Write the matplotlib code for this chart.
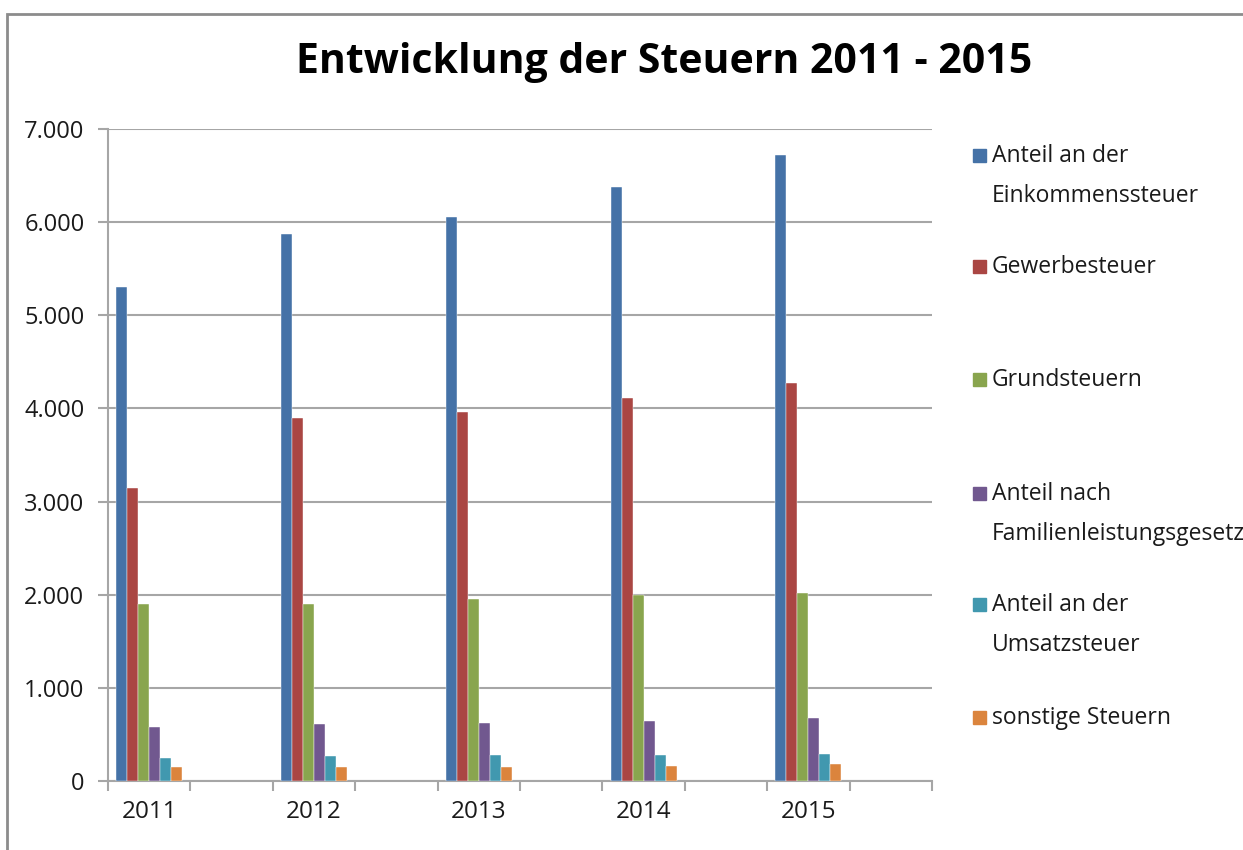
import numpy as np
import matplotlib.pyplot as plt
from matplotlib.patches import Rectangle
from matplotlib.ticker import FuncFormatter

''' Data '''
# Excel-Tabelle mit Leerzeilen zwischen den Jahren
categories = ['2011', '', '2012', '', '2013', '', '2014', '', '2015', '']
nan = np.nan

einkommensteuer = [5300, nan, 5870, nan, 6060, nan, 6380, nan, 6715, nan]
gewerbesteuer = [3140, nan, 3900, nan, 3960, nan, 4115, nan, 4270, nan]
grundsteuern = [1900, nan, 1900, nan, 1950, nan, 1995, nan, 2015, nan]
familienleistung = [575, nan, 610, nan, 625, nan, 640, nan, 675, nan]
umsatzsteuer = [250, nan, 265, nan, 280, nan, 280, nan, 295, nan]
sonstige = [145, nan, 145, nan, 155, nan, 158, nan, 180, nan]

series = [einkommensteuer, gewerbesteuer, grundsteuern,
          familienleistung, umsatzsteuer, sonstige]
legend_labels = ['Anteil an der\nEinkommenssteuer', 'Gewerbesteuer',
                 'Grundsteuern', 'Anteil nach\nFamilienleistungsgesetz',
                 'Anteil an der\nUmsatzsteuer', 'sonstige Steuern']
colors = ['#4572A7', '#AA4643', '#89A54E', '#71588F', '#4198AF', '#DB843D']

y_ticks = [0, 1000, 2000, 3000, 4000, 5000, 6000, 7000]

''' Graphing '''
plt.rcParams['font.family'] = ['Open Sans', 'DejaVu Sans']

fig = plt.figure(figsize=(12.43, 8.5), dpi=100)
ax = fig.add_axes([0.0869, 0.0812, 0.6629, 0.7671])

grid_color = '#A6A6A6'
text_color = '#1a1a1a'

# Bars: gap width 25% -> 6 bars fill 80% of a category
n_series = len(series)
bar_w = 0.8 / n_series
x = np.arange(len(categories))
for i, vals in enumerate(series):
    offset = (i - (n_series - 1) / 2) * bar_w
    ax.bar(x + offset, vals, width=bar_w, color=colors[i],
           edgecolor='white', linewidth=0.3, zorder=3)

# Axes
ax.set_xlim(-0.5, len(categories) - 0.5)
ax.set_ylim(0, 7000)
ax.set_yticks(y_ticks)
ax.yaxis.set_major_formatter(FuncFormatter(lambda v, p: f'{int(v):,}'.replace(',', '.')))
ax.grid(axis='y', color=grid_color, linewidth=1.5, zorder=0)

ax.set_xticks(np.arange(-0.5, len(categories), 1.0))
ax.set_xticklabels([])
ax.set_xticks(x, minor=True)
ax.set_xticklabels(categories, minor=True)
ax.tick_params(axis='x', which='minor', length=0, pad=14,
               labelsize=17.5, labelcolor=text_color)
ax.tick_params(axis='x', which='major', length=7, width=1.5, color=grid_color)
ax.tick_params(axis='y', length=7, width=1.5, color=grid_color, pad=10,
               labelsize=17, labelcolor=text_color)

for side in ['top', 'right']:
    ax.spines[side].set_visible(False)
for side in ['left', 'bottom']:
    ax.spines[side].set_color(grid_color)
    ax.spines[side].set_linewidth(1.5)

# Title
fig.text(0.534, 0.927, 'Entwicklung der Steuern 2011 - 2015', ha='center',
         va='center', fontsize=29.5, fontweight='bold', color='black')

# Legend (Excel-Layout, von Hand gesetzt)
legend_y = [157, 268, 381, 495, 606, 719]
for label, color, y_px in zip(legend_labels, colors, legend_y):
    yf = 1 - y_px / 850
    fig.patches.append(Rectangle((973 / 1243, yf - 5 / 850), 13 / 1243, 13 / 850,
                                 transform=fig.transFigure, color=color))
    fig.text(992 / 1243, yf + 13 / 850, label, ha='left', va='top',
             fontsize=16.5, color=text_color, linespacing=1.9)

# Chart border
fig.patches.append(Rectangle((7 / 1243, -0.05), 1.1, 1 - 14 / 850 + 0.05,
                             transform=fig.transFigure, fill=False,
                             edgecolor='#8c8c8c', linewidth=2))

plt.savefig('out.png', dpi=100)
